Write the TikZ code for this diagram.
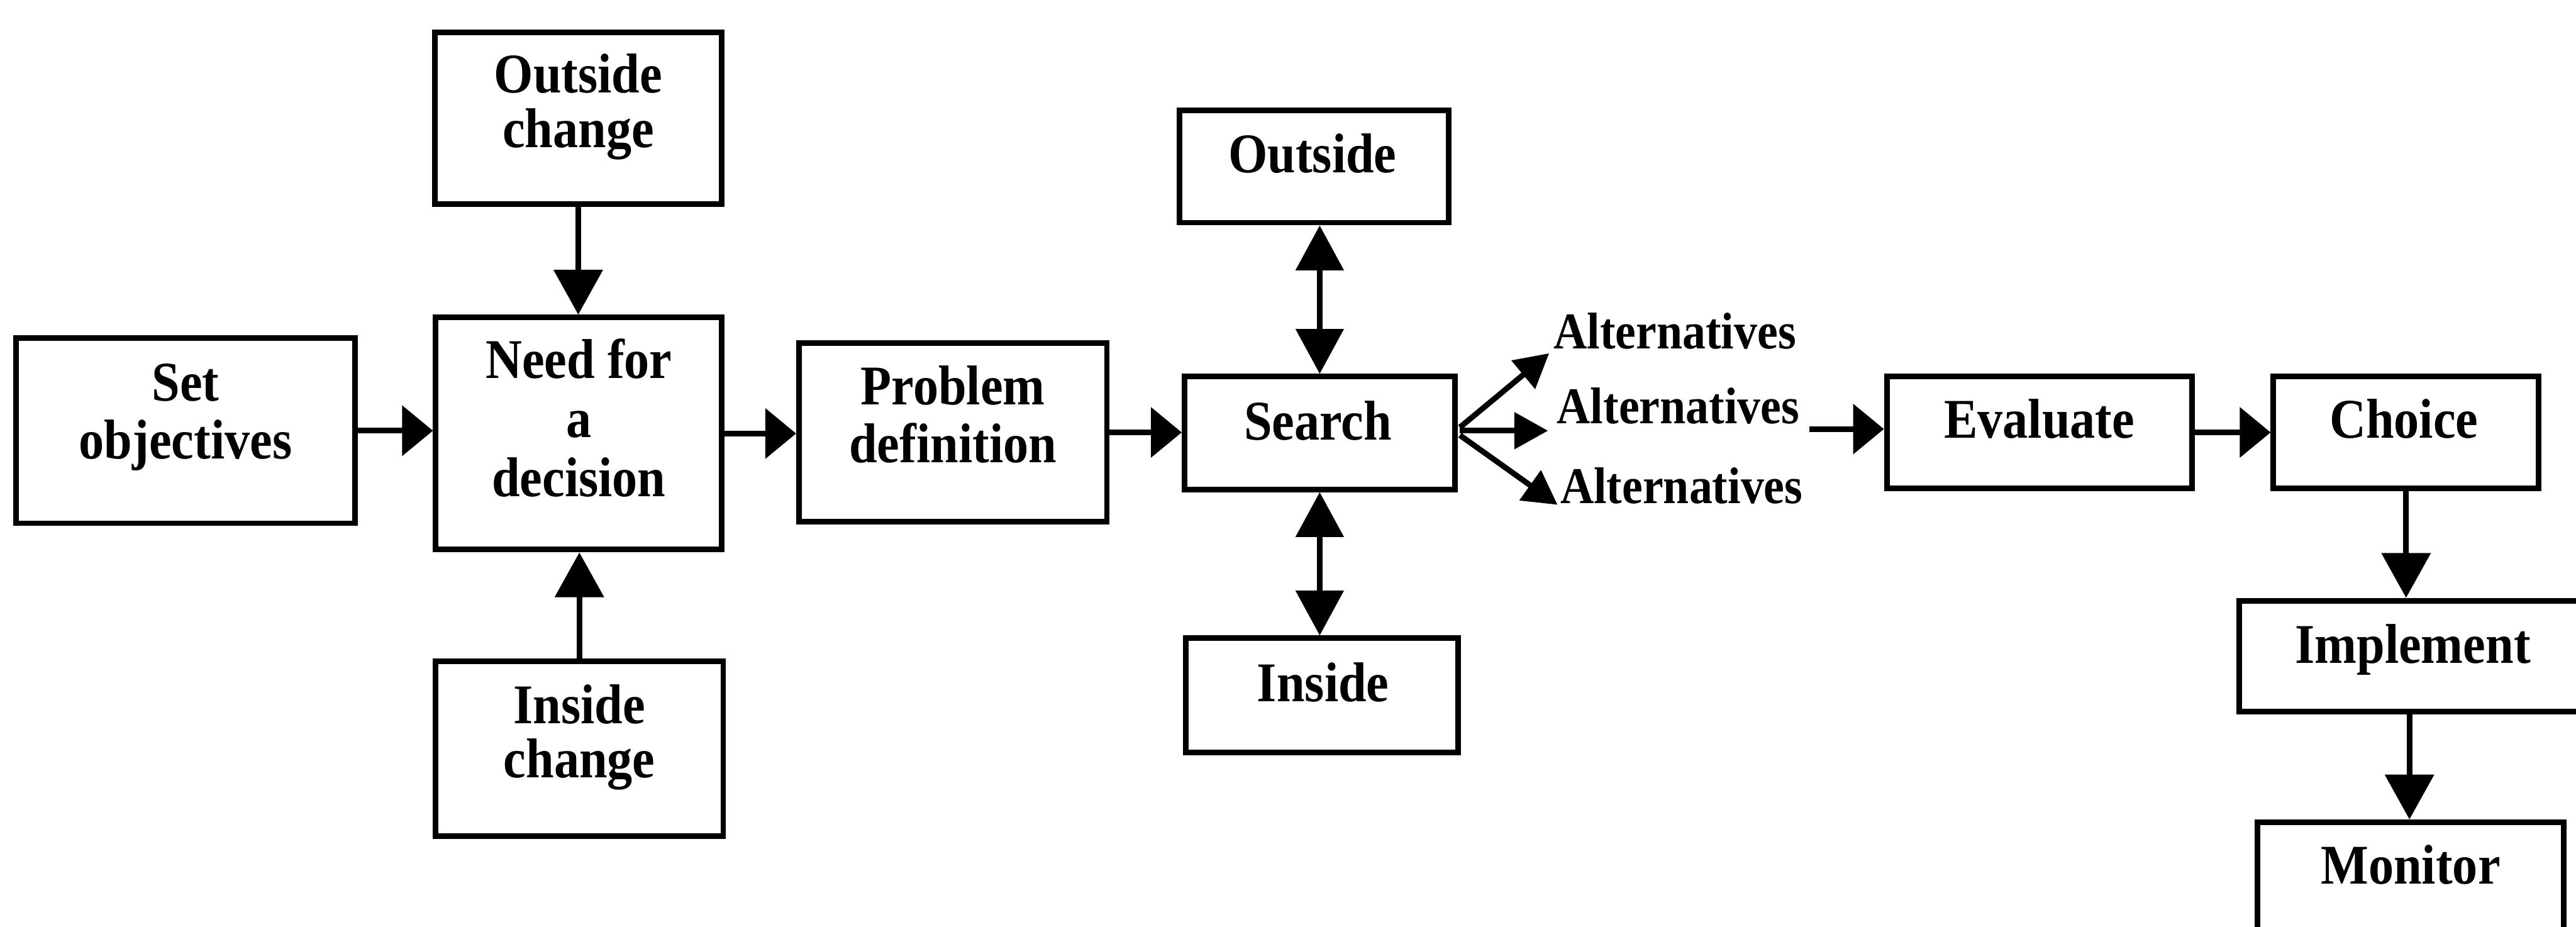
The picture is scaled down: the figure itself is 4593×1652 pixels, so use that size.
\documentclass[tikz,border=0pt]{standalone}
\usepackage{fontspec}
\setmainfont{Liberation Serif}[FakeStretch=0.9]
\usetikzlibrary{arrows.meta,calc}
% zero-depth strut that fixes the top of a label's first line
\newcommand{\firstline}{\rule{0pt}{7.2pt}}
\begin{document}
\begin{tikzpicture}[x=0.1pt,y=-0.1pt,
  box/.style={draw, rectangle, line width=1pt, inner sep=0pt},
  lbl/.style={font=\bfseries\fontsize{10}{10.3}\selectfont, align=center, inner sep=0pt, anchor=north},
  alt/.style={font=\bfseries\fontsize{9.2}{11}\selectfont, inner sep=0pt, anchor=base west},
  conn/.style={line width=1pt},
  harr/.style={conn, -{Triangle[length=5.5pt,width=8.8pt]}},
  varr/.style={conn, -{Triangle[length=8pt,width=8.6pt]}},
  bothv/.style={conn, {Triangle[length=8pt,width=8.4pt]}-{Triangle[length=8pt,width=8.4pt]}},
  darr/.style={conn, -{Triangle[length=6pt,width=6.4pt]}}]

\useasboundingbox (0,0) rectangle (4593,1652);
\clip (0,0) rectangle (4593,1652);

% boxes
\node[box, minimum width=60.4pt, minimum height=33pt]   (set)    at (331,768)    {};
\node[box, minimum width=51.2pt, minimum height=30.6pt] (outch)  at (1031,211)   {};
\node[box, minimum width=51pt,   minimum height=41.4pt] (need)   at (1032,773)   {};
\node[box, minimum width=51.3pt, minimum height=31.1pt] (inch)   at (1033,1335)  {};
\node[box, minimum width=54.9pt, minimum height=31.9pt] (prob)   at (1699,771)   {};
\node[box, minimum width=48.2pt, minimum height=20.1pt] (search) at (2353,772)   {};
\node[box, minimum width=48pt,   minimum height=20pt]   (outs)   at (2343,297)   {};
\node[box, minimum width=48.6pt, minimum height=20.4pt] (ins)    at (2357,1240)  {};
\node[box, minimum width=54.4pt, minimum height=20pt]   (eval)   at (3636,771)   {};
\node[box, minimum width=47.3pt, minimum height=20pt]   (choice) at (4290,771)   {};
\node[box, minimum width=60.7pt, minimum height=19.8pt] (impl)   at (4296,1170)  {};
\node[box, minimum width=54.6pt, minimum height=20.4pt] (mon)    at (4298,1568)  {};

% box labels
\node[lbl] (setT)    at (331,641)   {\firstline Set\\objectives};
\node[lbl] (outchT)  at (1031,91)   {\firstline Outside\\[-0.5pt]change};
\node[lbl] (needT)   at (1032,601)  {\firstline Need for\\[0.2pt]a\\[0.2pt]decision};
\node[lbl] (inchT)   at (1033,1216) {\firstline Inside\\[-0.7pt]change};
\node[lbl] (probT)   at (1699,648)  {\firstline Problem\\definition};
\node[lbl] (searchT) at (2350,710)  {\firstline Search};
\node[lbl] (outsT)   at (2340,234)  {\firstline Outside};
\node[lbl] (insT)    at (2359,1177) {\firstline Inside};
\node[lbl] (evalT)   at (3636,707)  {\firstline Evaluate};
\node[lbl] (choiceT) at (4286,707)  {\firstline Choice};
\node[lbl] (implT)   at (4302,1108) {\firstline Implement};
\node[lbl] (monT)    at (4298,1502) {\firstline Monitor};

% outcomes of the search
\node[alt] (alt1) at (2768,622) {Alternatives};
\node[alt] (alt2) at (2774,755) {Alternatives};
\node[alt] (alt3) at (2780,898) {Alternatives};

% main flow
\draw[harr] (set.east) -- (set.east -| need.west);
\draw[varr] (outch.south) -- (outch.south |- need.north);
\draw[varr] (inch.north) -- (inch.north |- need.south);
\draw[harr] (need.east) -- (need.east -| prob.west);
\draw[harr] (prob.east) -- (prob.east -| search.west);
\draw[bothv] (search.north) -- (search.north |- outs.south);
\draw[bothv] (search.south) -- (search.south |- ins.north);

% fan-out to the alternatives
\draw[darr] ($(search.east)+(4,-10)$) -- ($(alt1.base west)+(-6,8)$);
\draw[darr] ($(search.east)+(4,-4)$)  -- ($(alt2.base west)+(-14,13)$);
\draw[darr] ($(search.east)+(4,4)$)   -- ($(alt3.base west)+(-3,2)$);

\coordinate (altout) at ($(alt2.base east)+(16,10)$);
\draw[harr] (altout) -- (altout -| eval.west);
\draw[harr] (eval.east) -- (choice.west);
\draw[varr] (choice.south) -- (choice.south |- impl.north);
\draw[varr] (impl.south) -- (impl.south |- mon.north);
\end{tikzpicture}
\end{document}
